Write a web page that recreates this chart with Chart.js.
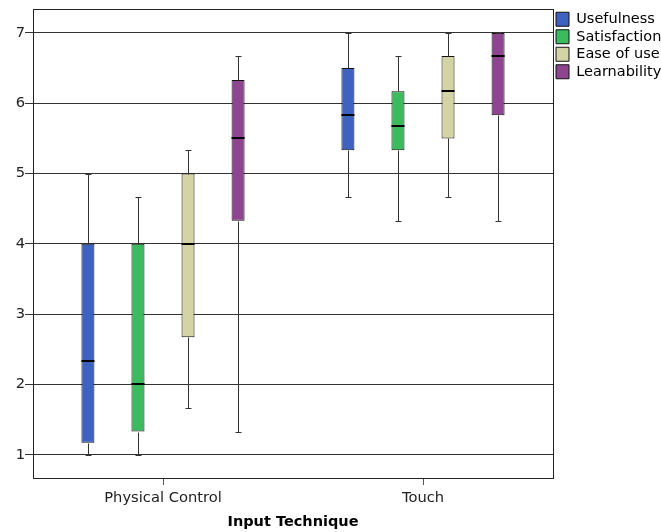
<!DOCTYPE html>
<html>
<head>
<meta charset="utf-8">
<script src="https://cdn.jsdelivr.net/npm/chart.js@4/dist/chart.umd.min.js"></script>
<style>
html, body { margin: 0; padding: 0; background: #fff; }
#wrap { width: 661px; height: 532px; }
</style>
</head>
<body>
<div id="wrap"><canvas id="boxchart"></canvas></div>
<script>
var categories = ['Physical Control', 'Touch'];
var seriesNames = ['Usefulness', 'Satisfaction', 'Ease of use', 'Learnability'];
// five-number summary per category: min, q1, median, q3, max
var usefulness = [[1, 1.17, 2.33, 4, 5], [4.67, 5.33, 5.83, 6.5, 7]];
var satisfaction = [[1, 1.33, 2, 4, 4.67], [4.33, 5.33, 5.67, 6.17, 6.67]];
var easeOfUse = [[1.67, 2.67, 4, 5, 5.33], [4.67, 5.5, 6.17, 6.67, 7]];
var learnability = [[1.33, 4.33, 5.5, 6.33, 6.67], [4.33, 5.83, 6.67, 7, 7]];
var yTicks = [1, 2, 3, 4, 5, 6, 7];

var colors = ['#3e62c0', '#3cba5e', '#d4d3a6', '#8e4590'];
var fontFamily = '"DejaVu Sans", sans-serif';

var summaries = [usefulness, satisfaction, easeOfUse, learnability];

// whiskers, caps, medians and the plot frame
var boxWhiskers = {
    id: 'boxWhiskers',
    afterDatasetsDraw: function (chart) {
        var ctx = chart.ctx;
        var yScale = chart.scales.y;
        ctx.save();
        chart.data.datasets.forEach(function (ds, i) {
            var meta = chart.getDatasetMeta(i);
            meta.data.forEach(function (bar, j) {
                var s = summaries[i][j];
                var x = Math.round(bar.x) + 0.5;
                var half = bar.width / 2;
                var py = function (v) { return Math.round(yScale.getPixelForValue(v)) + 0.5; };
                ctx.strokeStyle = '#333';
                ctx.lineWidth = 1;
                ctx.beginPath();
                ctx.moveTo(x, py(s[0]));
                ctx.lineTo(x, py(s[1]));
                ctx.moveTo(x, py(s[3]));
                ctx.lineTo(x, py(s[4]));
                ctx.moveTo(x - 3, py(s[0]));
                ctx.lineTo(x + 3, py(s[0]));
                ctx.moveTo(x - 3, py(s[4]));
                ctx.lineTo(x + 3, py(s[4]));
                ctx.stroke();
                ctx.strokeStyle = '#000';
                ctx.lineWidth = 2;
                ctx.beginPath();
                ctx.moveTo(bar.x - half, Math.round(yScale.getPixelForValue(s[2])));
                ctx.lineTo(bar.x + half, Math.round(yScale.getPixelForValue(s[2])));
                ctx.stroke();
            });
        });
        var a = chart.chartArea;
        ctx.strokeStyle = '#222';
        ctx.lineWidth = 1;
        ctx.strokeRect(Math.round(a.left) + 0.5, Math.round(a.top) + 0.5,
            Math.round(a.right - a.left), Math.round(a.bottom - a.top));
        ctx.restore();
    }
};

var datasets = seriesNames.map(function (name, i) {
    return {
        label: name,
        data: summaries[i].map(function (s) { return [s[1], s[3]]; }),
        backgroundColor: colors[i],
        borderColor: '#111',
        borderWidth: 1,
        borderSkipped: false,
        categoryPercentage: 0.77,
        barPercentage: 0.26
    };
});

var ctx = document.getElementById('boxchart').getContext('2d');
var chart = new Chart(ctx, {
    type: 'bar',
    data: { labels: categories, datasets: datasets },
    options: {
        responsive: true,
        maintainAspectRatio: false,
        animation: false,
        layout: { padding: { top: 9, left: 0, right: 0, bottom: 0 } },
        scales: {
            x: {
                grid: { display: true, drawOnChartArea: false, offset: false, tickLength: 7, color: '#555' },
                border: { display: false },
                ticks: { color: '#222', padding: 4, font: { family: fontFamily, size: 14.7 } },
                title: {
                    display: true,
                    text: 'Input Technique',
                    color: '#000',
                    font: { family: fontFamily, size: 14.5, weight: 'bold' },
                    padding: { top: 4, bottom: 1 }
                },
                afterFit: function (scale) { scale.height = 54; }
            },
            y: {
                min: 0.67,
                max: 7.34,
                afterBuildTicks: function (scale) {
                    scale.ticks = yTicks.map(function (v) { return { value: v }; });
                },
                grid: { color: '#333', tickLength: 8 },
                border: { display: false },
                ticks: { color: '#222', padding: 0, font: { family: fontFamily, size: 14.7 } },
                afterFit: function (scale) { scale.width = 33; }
            }
        },
        plugins: {
            legend: {
                position: 'right',
                align: 'start',
                maxWidth: 108,
                labels: {
                    boxWidth: 13,
                    boxHeight: 14,
                    padding: 3,
                    color: '#000',
                    font: { family: fontFamily, size: 14.5 }
                }
            },
            tooltip: { enabled: false }
        }
    },
    plugins: [boxWhiskers]
});
</script>
</body>
</html>
